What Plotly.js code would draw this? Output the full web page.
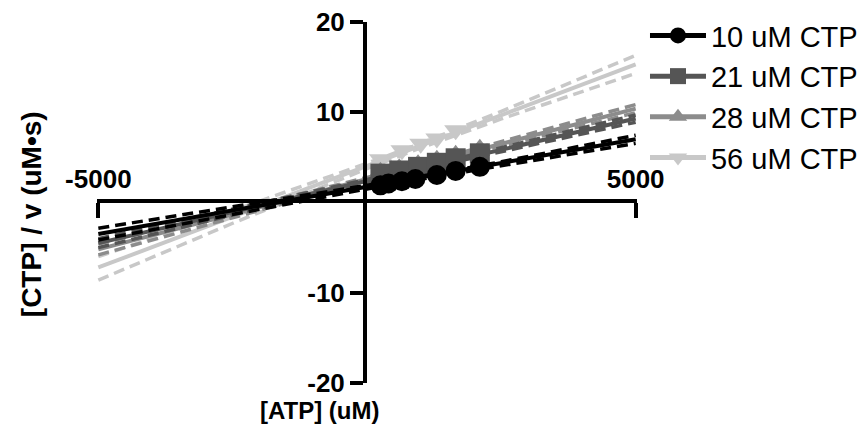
<!DOCTYPE html>
<html>
<head>
<meta charset="utf-8">
<script src="https://cdn.plot.ly/plotly-3.0.1.min.js"></script>
<style>html,body{margin:0;padding:0;background:#fff;}#chart{width:867px;height:443px;}</style>
</head>
<body>
<div id="chart"></div>
<script>
// Series names
var seriesNames = ["10 uM CTP", "21 uM CTP", "28 uM CTP", "56 uM CTP"];
var seriesColors = ["#000000", "#555555", "#8c8c8c", "#c8c8c8"];
var seriesSymbols = ["circle", "square", "triangle-up", "triangle-down"];

// Measured points ([ATP] uM, [CTP]/v)
var atp10 = [250, 400, 650, 900, 1300, 1650, 2100];
var val10 = [1.9, 2.1, 2.35, 2.6, 3.05, 3.5, 3.95];
var atp21 = [250, 600, 950, 1300, 1650, 2100];
var val21 = [3.2, 3.55, 3.95, 4.4, 4.9, 5.45];
var atp28 = [250, 600, 950, 1300, 1650, 2100];
var val28 = [3.4, 3.8, 4.25, 4.75, 5.3, 5.95];
var atp56 = [250, 650, 1000, 1300, 1650];
var val56 = [4.8, 5.8, 6.5, 7.1, 8.0];

// Fit lines and confidence bands read at these x positions
var fitX = [-5000, -2500, 0, 1000, 2500, 5000];
var fit10 = [-3.5, -0.9, 1.7, 2.74, 4.3, 7.0];
var up10 = [-2.85, -0.5, 1.9, 2.9, 4.52, 7.45];
var lo10 = [-4.15, -1.3, 1.5, 2.58, 4.08, 6.55];
var fit21 = [-4.5, -1.05, 2.4, 3.78, 5.85, 9.3];
var up21 = [-4.0, -0.75, 2.55, 3.9, 6.05, 9.7];
var lo21 = [-5.0, -1.35, 2.25, 3.66, 5.65, 8.9];
var fit28 = [-5.2, -1.3, 2.6, 4.16, 6.5, 10.4];
var up28 = [-4.6, -0.95, 2.78, 4.3, 6.72, 10.85];
var lo28 = [-5.8, -1.65, 2.42, 4.02, 6.28, 9.95];
var fit56 = [-7.2, -1.58, 4.05, 6.3, 9.68, 15.3];
var up56 = [-6.0, -0.9, 4.35, 6.55, 10.1, 16.3];
var lo56 = [-8.6, -2.3, 3.75, 6.05, 9.26, 14.3];

// Axis ticks
var xTickVals = [-5000, 5000];
var xTickText = ["-5000", "5000"];
var yTickVals = [-20, -10, 10, 20];
var yTickText = ["-20", "-10", "10", "20"];

var pts = [[atp10, val10], [atp21, val21], [atp28, val28], [atp56, val56]];
var fits = [fit10, fit21, fit28, fit56];
var ups = [up10, up21, up28, up56];
var los = [lo10, lo21, lo28, lo56];

var traces = [];
// empty helper traces so the axes crossing at the origin get their own subplots
traces.push({x: [null], y: [null], xaxis: "x2", yaxis: "y", mode: "markers", showlegend: false, hoverinfo: "skip"});
traces.push({x: [null], y: [null], xaxis: "x", yaxis: "y2", mode: "markers", showlegend: false, hoverinfo: "skip"});
// draw lightest first so darker series sit on top
for (var i = 3; i >= 0; i--) {
  var c = seriesColors[i];
  traces.push({x: fitX, y: ups[i], mode: "lines", line: {color: c, width: 3.5, dash: "11px,6px"}, showlegend: false, hoverinfo: "skip"});
  traces.push({x: fitX, y: los[i], mode: "lines", line: {color: c, width: 3.5, dash: "11px,6px"}, showlegend: false, hoverinfo: "skip"});
  traces.push({x: fitX, y: fits[i], mode: "lines", line: {color: c, width: 4}, showlegend: false, hoverinfo: "skip"});
  traces.push({x: pts[i][0], y: pts[i][1], mode: "markers", marker: {color: c, size: 20, symbol: seriesSymbols[i]}, showlegend: false});
}
// legend entries
for (var j = 0; j < 4; j++) {
  traces.push({x: [null], y: [null], mode: "lines+markers", name: seriesNames[j], legendrank: j + 1,
    line: {color: seriesColors[j], width: 5}, marker: {color: seriesColors[j], size: 16, symbol: seriesSymbols[j]}});
}

var boldFont = {family: "Liberation Sans, Arial, sans-serif", size: 26, color: "#000", weight: "bold"};

var layout = {
  width: 867, height: 443,
  margin: {l: 97, r: 230, t: 22, b: 60, autoexpand: false},
  paper_bgcolor: "#fff", plot_bgcolor: "rgba(0,0,0,0)",
  showlegend: true,
  legend: {x: 1.0148, y: 1.033, xanchor: "left", yanchor: "top",
    font: {family: "Liberation Sans, Arial, sans-serif", size: 29, color: "#000"},
    bgcolor: "rgba(0,0,0,0)", itemwidth: 56},
  xaxis: {range: [-5025, 5025], domain: [0, 1], anchor: "y2", side: "top",
    showline: true, linewidth: 4, linecolor: "#000",
    ticks: "inside", ticklen: 15, tickwidth: 4, tickcolor: "#000",
    tickvals: xTickVals, ticktext: xTickText, tickfont: boldFont,
    showgrid: false, zeroline: false},
  yaxis: {range: [-20, 20], domain: [0, 1], anchor: "x2", side: "left",
    showline: true, linewidth: 4, linecolor: "#000",
    ticks: "outside", ticklen: 13, tickwidth: 4, tickcolor: "#000",
    tickvals: yTickVals, ticktext: yTickText, tickfont: boldFont,
    showgrid: false, zeroline: false},
  xaxis2: {domain: [0.5, 1], anchor: "y", range: [0, 1], visible: false, showgrid: false, zeroline: false},
  yaxis2: {domain: [0, 0.5], anchor: "x", range: [0, 1], visible: false, showgrid: false, zeroline: false},
  annotations: [
    {text: "[ATP] (uM)", xref: "paper", yref: "paper", x: 0.413, y: -0.075,
      xanchor: "center", yanchor: "middle", showarrow: false,
      font: {family: "Liberation Sans, Arial, sans-serif", size: 24, color: "#000", weight: "bold"}},
    {text: "[CTP] / v (uM•s)", xref: "paper", yref: "paper", x: -0.122, y: 0.468,
      xanchor: "center", yanchor: "middle", textangle: -90, showarrow: false,
      font: {family: "Liberation Sans, Arial, sans-serif", size: 28, color: "#000", weight: "bold"}}
  ]
};

Plotly.newPlot("chart", traces, layout, {displayModeBar: false, staticPlot: true});
</script>
</body>
</html>
